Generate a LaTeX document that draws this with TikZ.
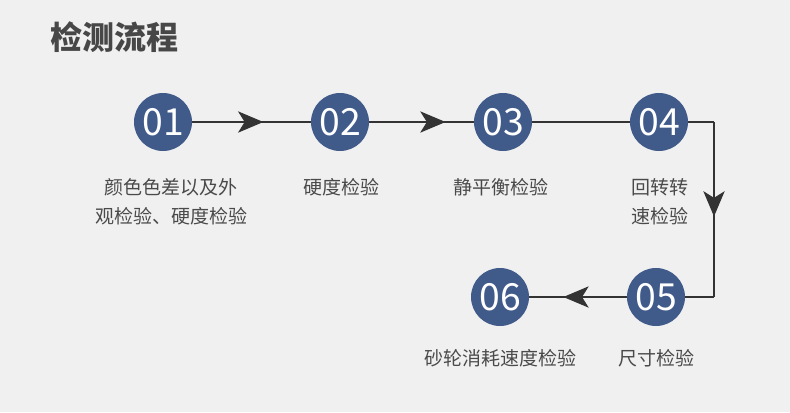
\documentclass[tikz,border=0pt]{standalone}
\usepackage{fontspec}
\setmainfont{Noto Sans CJK SC}
\usetikzlibrary{arrows.meta,decorations.markings}
\definecolor{stepblue}{HTML}{405A8A}
\definecolor{bggray}{HTML}{F0F0F0}
\definecolor{txtgray}{HTML}{4A4A4A}

\begin{document}
\begin{tikzpicture}[x=0.75pt,y=-0.75pt,
    stepdot/.style={circle,fill=stepblue,inner sep=0pt,minimum size=43.5pt,
      text=white,font=\fontsize{28}{28}\selectfont},
    steptext/.style={text=txtgray,align=center,font=\fontsize{14.25}{21.75}\selectfont},
    link/.style={draw=black!80,line width=0.8pt},
    midarrow/.style={postaction={decorate},decoration={markings,
      mark=at position #1 with {\arrow{Stealth[length=19pt,width=16pt,inset=5pt]}}}}]
    % background
    \fill[bggray] (0,0) rectangle (790,412);
    % title
    \node[anchor=west,text=black!72,font=\fontsize{24}{24}\selectfont\bfseries] (title) at (46,37) {检测流程};
    % steps
    \node[stepdot] (n01) at (163,122) {01};
    \node[stepdot] (n02) at (340,122) {02};
    \node[stepdot] (n03) at (503,122) {03};
    \node[stepdot] (n04) at (659,122) {04};
    \node[stepdot] (n05) at (656,297) {05};
    \node[stepdot] (n06) at (500,297) {06};
    % corners on the right
    \coordinate (r04) at (714,122);
    \coordinate (r05) at (714,297);
    % connectors
    \draw[link,midarrow=0.6] (n01) -- (n02);
    \draw[link,midarrow=0.73] (n02) -- (n03);
    \draw[link] (n03) -- (n04);
    \draw[link] (n04) -- (r04);
    \draw[link,midarrow=0.54] (r04) -- (r05);
    \draw[link] (r05) -- (n05);
    \draw[link,midarrow=0.65] (n05) -- (n06);
    % labels
    \node[steptext] (l01) at (171,202) {颜色色差以及外\\观检验、硬度检验};
    \node[steptext] (l02) at (341,187) {硬度检验};
    \node[steptext] (l03) at (501,187) {静平衡检验};
    \node[steptext] (l04) at (660,202) {回转转\\速检验};
    \node[steptext] (l05) at (656,358) {尺寸检验};
    \node[steptext] (l06) at (500,358) {砂轮消耗速度检验};
\end{tikzpicture}
\end{document}
